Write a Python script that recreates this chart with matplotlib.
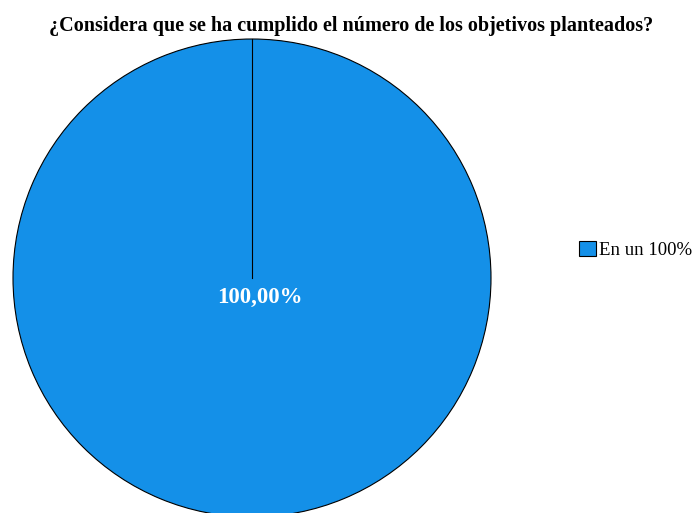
import matplotlib
matplotlib.use("Agg")
import matplotlib.pyplot as plt
from matplotlib.patches import Patch

categories = ["En un 100%"]
values = [100.0]
labels = ["100,00%"]
title = "¿Considera que se ha cumplido el número de los objetivos planteados?"
color = "#1490E8"

W, H = 699, 513
fig = plt.figure(figsize=(W/100, H/100), dpi=100)
plt.rcParams['font.family'] = ['Liberation Serif', 'DejaVu Serif']

cx, cy, r = 252, 278, 239
ax = fig.add_axes([(cx - r)/W, (H - cy - r)/H, 2*r/W, 2*r/H])

wedges, _ = ax.pie(values, colors=[color], startangle=90, counterclock=False,
                   radius=1, wedgeprops=dict(edgecolor='black', linewidth=0.8))
ax.set_aspect('auto')
ax.set_xlim(-1, 1)
ax.set_ylim(-1, 1)
ax.axis('off')
for w in wedges:
    w.set_clip_on(False)
ax.plot([0, 0], [0, 1], color='black', lw=0.8, clip_on=False)
ax.text(0.035, -0.08, labels[0], color='white', fontsize=16.5, fontweight='bold',
        ha='center', va='center')

fig.text(351/W, 1 - 26/H, title, ha='center', va='center', fontsize=14.5, fontweight='bold')

handles = [Patch(facecolor=color, edgecolor='black', linewidth=0.8)]
leg = fig.legend(handles, categories, loc='center left', bbox_to_anchor=(579/W, 1 - 250/H),
                 frameon=False, fontsize=13.5, handlelength=0.9, handleheight=0.9,
                 handletextpad=0.15, borderpad=0, borderaxespad=0)

fig.savefig("out.png", dpi=100)
